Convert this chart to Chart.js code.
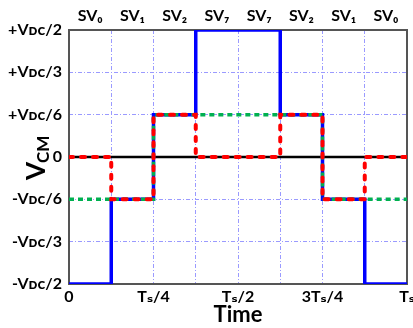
<!DOCTYPE html>
<html>
<head>
<meta charset="utf-8">
<script src="https://cdn.jsdelivr.net/npm/chart.js@4"></script>
<style>
  html, body { margin: 0; padding: 0; background: #fff; }
  #wrap { width: 413px; height: 328px; }
</style>
</head>
<body>
<div id="wrap"><canvas id="vcm"></canvas></div>
<script>
// time in units of Ts/8, voltage in units of VDC/6
const segmentEdges = [0, 1, 2, 3, 4, 5, 6, 7, 8];
const vectorLabels = ['SV₀', 'SV₁', 'SV₂', 'SV₇', 'SV₇', 'SV₂', 'SV₁', 'SV₀'];
const blueLevels = [-3, -1, 1, 3, 3, 1, -1, -3];
const redLevels = [0, -1, 1, 0, 0, 1, -1, 0];
const greenLevels = [-1, -1, 1, 1, 1, 1, -1, -1];
const zeroLevels = [0, 0, 0, 0, 0, 0, 0, 0];
const yTickLabels = ['-Vᴅᴄ/2', '-Vᴅᴄ/3', '-Vᴅᴄ/6', '0', '+Vᴅᴄ/6', '+Vᴅᴄ/3', '+Vᴅᴄ/2'];
const xTickLabels = { 0: '0', 2: 'Tₛ/4', 4: 'Tₛ/2', 6: '3Tₛ/4', 8: 'Tₛ' };

const FONT = 'Lato, "DejaVu Sans", sans-serif';

// step points: each level held until next edge
function steps(levels) {
  const pts = levels.map((v, i) => ({ x: segmentEdges[i], y: v }));
  pts.push({ x: segmentEdges[segmentEdges.length - 1], y: levels[levels.length - 1] });
  return pts;
}

const framePlugin = {
  id: 'frame',
  beforeDatasetsDraw(chart) {
    const { ctx, chartArea: a } = chart;
    ctx.save();
    ctx.strokeStyle = '#555';
    ctx.lineWidth = 2;
    ctx.strokeRect(a.left, a.top, a.right - a.left, a.bottom - a.top);
    ctx.restore();
  }
};

const vcmTitle = {
  id: 'vcmTitle',
  afterDraw(chart) {
    const ctx = chart.ctx;
    const cy = chart.scales.y.getPixelForValue(0);
    ctx.save();
    ctx.translate(45, cy + 23);
    ctx.rotate(-Math.PI / 2);
    ctx.fillStyle = '#000';
    ctx.textBaseline = 'alphabetic';
    ctx.font = 'bold 26px ' + FONT;
    ctx.fillText('V', 0, 0);
    const w = ctx.measureText('V').width;
    ctx.font = 'bold 17px ' + FONT;
    ctx.fillText('CM', w - 1, 4);
    ctx.restore();
  }
};

new Chart(document.getElementById('vcm'), {
  type: 'line',
  data: {
    datasets: [
      { label: 'zero', data: steps(zeroLevels), borderColor: '#000', borderWidth: 2.5, order: 4 },
      { label: 'blue', data: steps(blueLevels), borderColor: '#0000ff', borderWidth: 3.5, order: 3 },
      { label: 'green', data: steps(greenLevels), borderColor: '#00b050', borderWidth: 3.5,
        borderDash: [5, 4], order: 2 },
      { label: 'red', data: steps(redLevels), borderColor: '#ff0000', borderWidth: 4,
        borderDash: [4, 8], borderCapStyle: 'round', order: 1 }
    ]
  },
  options: {
    animation: false,
    responsive: true,
    maintainAspectRatio: false,
    layout: { padding: { left: 0, right: 6, top: 0, bottom: 0 } },
    elements: {
      point: { radius: 0 },
      line: { stepped: true, fill: false, tension: 0 }
    },
    plugins: { legend: { display: false }, tooltip: { enabled: false } },
    scales: {
      x: {
        type: 'linear', min: 0, max: 8,
        border: { display: false, dash: [4, 2, 1, 2] },
        grid: { color: '#9a9aff', lineWidth: 1, drawTicks: false },
        ticks: {
          stepSize: 1, autoSkip: false, maxRotation: 0, padding: 3,
          color: '#000', font: { family: FONT, size: 16, weight: 'bold' },
          callback: v => xTickLabels[v] !== undefined ? xTickLabels[v] : ''
        },
        title: {
          display: true, text: 'Time', color: '#000', padding: 0,
          font: { family: FONT, size: 22, weight: 'bold' }
        },
        afterFit(s) { s.height = 44; s.paddingLeft = 0; s.paddingRight = 0; }
      },
      x2: {
        type: 'category', position: 'top', labels: vectorLabels, offset: true,
        border: { display: false },
        grid: { display: false, drawTicks: false },
        ticks: {
          autoSkip: false, maxRotation: 0, padding: 5,
          color: '#000', font: { family: FONT, size: 16, weight: 'bold' }
        },
        afterFit(s) { s.height = 30; s.paddingLeft = 0; s.paddingRight = 0; }
      },
      y: {
        type: 'linear', min: -3, max: 3,
        border: { display: false, dash: [4, 2, 1, 2] },
        grid: { color: '#9a9aff', lineWidth: 1, drawTicks: false },
        ticks: {
          stepSize: 1, autoSkip: false, padding: 7,
          color: '#000', font: { family: FONT, size: 16, weight: 'bold' },
          callback: v => yTickLabels[v + 3]
        },
        afterFit(s) { s.width = 69; s.paddingTop = 0; s.paddingBottom = 0; }
      }
    }
  },
  plugins: [framePlugin, vcmTitle]
});
</script>
</body>
</html>
